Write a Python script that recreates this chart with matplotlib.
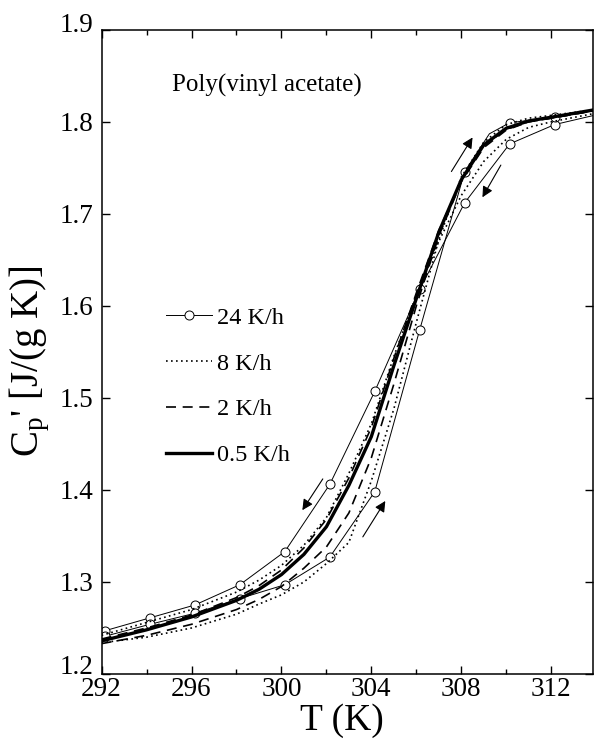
import matplotlib
matplotlib.use("Agg")
import matplotlib.pyplot as plt
from matplotlib.ticker import MultipleLocator
from matplotlib.transforms import ScaledTranslation

plt.rcParams["font.family"] = ["Liberation Serif", "DejaVu Serif"]
plt.rcParams["mathtext.fontset"] = "custom"
plt.rcParams["mathtext.rm"] = "Liberation Serif"
plt.rcParams["mathtext.it"] = "Liberation Serif:italic"

# 24 K/h, points marked with circles (every 2 K)
t_circ = [292.15, 294.15, 296.15, 298.15, 300.15, 302.15, 304.15, 306.15, 308.15, 310.15, 312.15]
cool24 = [1.247, 1.261, 1.275, 1.297, 1.333, 1.406, 1.507, 1.618, 1.712, 1.776, 1.797]
heat24 = [1.241, 1.254, 1.266, 1.282, 1.297, 1.327, 1.398, 1.574, 1.746, 1.799, 1.805]

t_cool24 = [292.0] + t_circ + [313.9]
v_cool24 = [1.246] + cool24 + [1.807]
t_heat24 = [292.0] + t_circ[:9] + [309.25] + t_circ[9:] + [313.9]
v_heat24 = [1.240] + heat24[:9] + [1.787] + heat24[9:] + [1.812]

# slower rates on a common temperature grid
t_grid = [292, 294, 296, 298, 299, 300, 301, 302, 303, 304, 305, 306, 307, 308, 309, 310, 311, 312, 313.9]
cool8 = [1.242, 1.256, 1.270, 1.289, 1.302, 1.318, 1.340, 1.370, 1.418, 1.472, 1.545, 1.612, 1.670, 1.720, 1.757, 1.781, 1.794, 1.800, 1.809]
heat8 = [1.234, 1.240, 1.250, 1.265, 1.276, 1.286, 1.300, 1.320, 1.343, 1.410, 1.488, 1.582, 1.672, 1.740, 1.778, 1.797, 1.804, 1.807, 1.813]
cool2 = [1.238, 1.250, 1.264, 1.283, 1.296, 1.313, 1.337, 1.368, 1.413, 1.468, 1.543, 1.614, 1.682, 1.736, 1.774, 1.792, 1.800, 1.804, 1.812]
heat2 = [1.233, 1.242, 1.254, 1.270, 1.281, 1.295, 1.315, 1.338, 1.375, 1.435, 1.515, 1.600, 1.676, 1.735, 1.772, 1.791, 1.800, 1.804, 1.812]
rate05 = [1.236, 1.248, 1.262, 1.280, 1.292, 1.308, 1.330, 1.360, 1.405, 1.458, 1.535, 1.608, 1.680, 1.737, 1.775, 1.793, 1.801, 1.805, 1.813]

labels = ["24 K/h", "8 K/h", "2 K/h", "0.5 K/h"]

# arrows: (tail T, tail Cp, head T, head Cp)
arrows = [
    (307.56, 1.746, 308.50, 1.783),
    (309.76, 1.753, 308.94, 1.718),
    (301.84, 1.412, 300.93, 1.378),
    (303.62, 1.349, 304.62, 1.388),
]

fig = plt.figure(figsize=(5.94, 7.45), dpi=100)
ax = fig.add_axes([0.171, 0.0953, 0.827, 0.8647])

circ = dict(marker="o", ms=6.5, mfc="white", mec="black", mew=0.7)
mk_cool = [i for i, t in enumerate(t_cool24) if t in t_circ]
mk_heat = [i for i, t in enumerate(t_heat24) if t in t_circ]

h24, = ax.plot(t_cool24, v_cool24, color="k", lw=0.7, markevery=mk_cool, **circ)
ax.plot(t_heat24, v_heat24, color="k", lw=0.7, markevery=mk_heat, **circ)
h8, = ax.plot(t_grid, cool8, color="k", lw=1.2, ls=(0, (1, 2)))
ax.plot(t_grid, heat8, color="k", lw=1.2, ls=(0, (1, 2)))
h2, = ax.plot(t_grid, cool2, color="k", lw=1.2, ls=(0, (6, 4)))
ax.plot(t_grid, heat2, color="k", lw=1.2, ls=(0, (6, 4)))
h05, = ax.plot(t_grid, rate05, color="k", lw=2.4)

for x0, y0, x1, y1 in arrows:
    ax.annotate("", xy=(x1, y1), xytext=(x0, y0),
                arrowprops=dict(arrowstyle="-|>", color="k", lw=0.8,
                                mutation_scale=16, shrinkA=0, shrinkB=0))

ax.text(295.13, 1.84, "Poly(vinyl acetate)", fontsize=18, ha="left", va="center")

leg = ax.legend([h24, h8, h2, h05], labels, loc="upper left",
                bbox_to_anchor=(0.131, 0.570), frameon=False, fontsize=17.5,
                handlelength=1.9, handletextpad=0.2, labelspacing=0.98,
                borderpad=0, borderaxespad=0, numpoints=1)

ax.set_xlim(292, 313.85)
ax.set_ylim(1.2, 1.9)
ax.xaxis.set_major_locator(MultipleLocator(4))
ax.xaxis.set_minor_locator(MultipleLocator(2))
ax.set_yticks([1.2, 1.3, 1.4, 1.5, 1.6, 1.7, 1.8, 1.9])
ax.tick_params(which="both", direction="in", top=True, right=True, labelsize=19.5, width=1.0)
ax.tick_params(which="major", length=6)
ax.tick_params(axis="x", which="major", pad=2)
ax.tick_params(axis="y", which="major", pad=6)
ax.tick_params(which="minor", length=3.5)
for s in ax.spines.values():
    s.set_linewidth(1.1)

ax.set_xlabel("T (K)", fontsize=27)
ax.xaxis.set_label_coords(0.49, -0.046)
ax.set_ylabel(r"C$_\mathrm{p}$' [J/(g K)]", fontsize=28)
ax.yaxis.set_label_coords(-0.10, 0.485)

# the end labels 1.2 and 1.9 sit a little higher than their ticks in the original
fig.canvas.draw()
yticks = ax.yaxis.get_major_ticks()
for tk, dy in ((yticks[0], 0.10), (yticks[-1], 0.07)):
    tk.label1.set_transform(tk.label1.get_transform() + ScaledTranslation(0, dy, fig.dpi_scale_trans))

fig.savefig("out.png", dpi=100)
